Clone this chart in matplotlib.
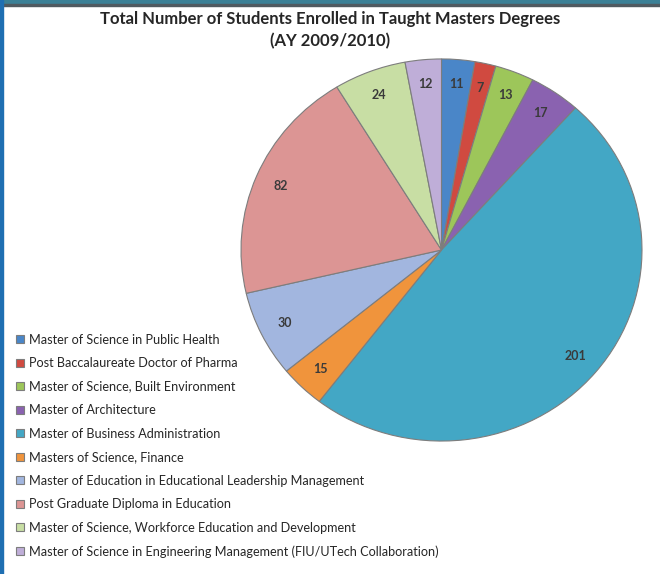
import numpy as np
import matplotlib.pyplot as plt
from matplotlib.patches import Rectangle
from matplotlib.transforms import Bbox, TransformedBbox

programmes = [
    "Master of Science in Public Health",
    "Post Baccalaureate Doctor of Pharmacy",
    "Master of Science, Built Environment",
    "Master of Architecture",
    "Master of Business Administration",
    "Masters of Science, Finance",
    "Master of Education in Educational Leadership Management",
    "Post Graduate Diploma in Education",
    "Master of Science, Workforce Education and Development",
    "Master of Science in Engineering Management (FIU/UTech Collaboration)",
]
students = [11, 7, 13, 17, 201, 15, 30, 82, 24, 12]
colors = ["#4a86c8", "#d04a40", "#9dc65a", "#8a62b0", "#43a7c5",
          "#f0943c", "#a2b6df", "#dc9594", "#c8dea4", "#bfaed8"]

W, H = 660, 574
plt.rcParams['font.family'] = ['Lato', 'DejaVu Sans']
fig = plt.figure(figsize=(W / 100, H / 100), dpi=100)
fig.patch.set_facecolor('white')

# frame strips of the original screenshot
fig.patches.append(Rectangle((0, 1 - 4 / H), 1, 4 / H, transform=fig.transFigure,
                             color='#3b8096', zorder=5))
fig.patches.append(Rectangle((0, 1 - 5.5 / H), 1, 1.5 / H, transform=fig.transFigure,
                             color='#505a60', zorder=5))
fig.patches.append(Rectangle((0, 0), 3 / W, 1, transform=fig.transFigure,
                             color='#1f6fb2', zorder=6))

fig.text(0.5, 1 - 19 / H, "Total Number of Students Enrolled in Taught Masters Degrees",
         ha='center', va='center', fontsize=12, fontweight='bold', color='#262626')
fig.text(0.5, 1 - 41 / H, "(AY 2009/2010)",
         ha='center', va='center', fontsize=12, fontweight='bold', color='#262626')

# elliptical pie, axes box = pie box
left, right, top, bottom = 240, 643, 58, 442
ax = fig.add_axes([left / W, 1 - bottom / H, (right - left) / W, (bottom - top) / H])
wedges, texts = ax.pie(students, colors=colors, startangle=90, counterclock=False,
                       labels=[str(v) for v in students], labeldistance=0.87,
                       wedgeprops=dict(edgecolor='#7d7d7d', linewidth=0.8),
                       textprops=dict(fontsize=9, fontweight='bold', color='#3a3a3a'))
for t in texts:
    t.set_ha('center')
    t.set_va('center')
ax.set_aspect('auto')
ax.set_xlim(-1.005, 1.005)
ax.set_ylim(-1.005, 1.005)
ax.axis('off')
ax.set_zorder(2)

leg = fig.legend(wedges, programmes, loc='upper left',
                 bbox_to_anchor=(16 / W, 1 - 333.5 / H), frameon=False,
                 fontsize=9.1, handlelength=0.65, handleheight=0.6,
                 handletextpad=0.35, labelspacing=0.91, borderpad=0,
                 borderaxespad=0)
leg.set_zorder(1)
for t in leg.get_texts():
    t.set_color('#262626')
clip = TransformedBbox(Bbox([[0, 0], [237 / W, 1]]), fig.transFigure)
leg.get_texts()[1].set_clip_box(clip)
leg.get_texts()[1].set_clip_on(True)

fig.savefig("out.png", dpi=100)
